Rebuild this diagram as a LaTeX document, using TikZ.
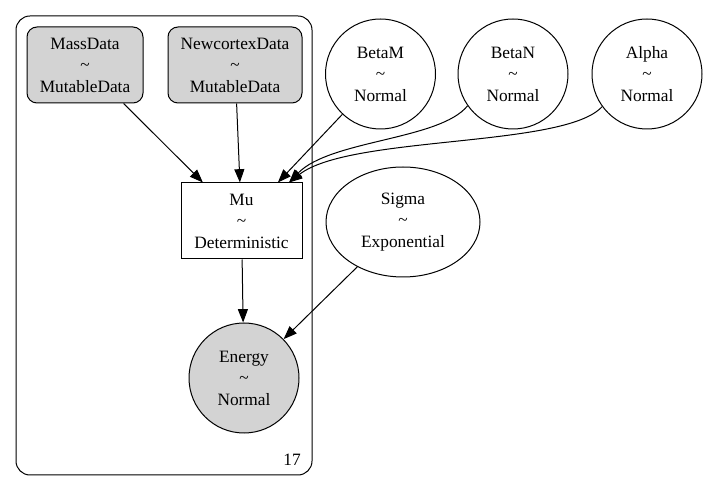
\documentclass[tikz,border=0pt]{standalone}
\usepackage{fontspec}
\newfontfamily\gvfont{LiberationSerif-Regular.ttf}
\usetikzlibrary{arrows.meta,shapes.geometric}
\definecolor{gvgray}{HTML}{D3D3D3}
\begin{document}
\begin{tikzpicture}[x=0.75pt,y=-0.75pt,
  every node/.style={font=\gvfont\fontsize{13}{16.1}\selectfont, align=center, inner sep=0pt, line width=0.75pt},
  datanode/.style={draw, fill=gvgray, rectangle, rounded corners=7.5pt, minimum height=76*0.75pt},
  rvnode/.style={draw, circle, minimum size=110*0.75pt},
  detnode/.style={draw, rectangle, minimum width=121*0.75pt, minimum height=76*0.75pt},
  arr/.style={-{Triangle[length=10pt,width=7.5pt]}, line width=0.75pt},
  plate/.style={draw, line width=0.75pt, rounded corners=10.5pt}]
\useasboundingbox (0,0) rectangle (707,491);
\draw[plate] (16,16) rectangle (312,475);
\node[anchor=center] (plabel) at (292,460) {17};
\node[datanode, minimum width=116*0.75pt] (mass) at (85,65) {MassData\\\textasciitilde\\MutableData};
\node[datanode, minimum width=134*0.75pt] (newc) at (235,65) {NewcortexData\\\textasciitilde\\MutableData};
\node[detnode] (mu) at (241.5,221) {Mu\\\textasciitilde\\Deterministic};
\node[rvnode, fill=gvgray] (energy) at (244,378) {Energy\\\textasciitilde\\Normal};
\node[rvnode] (betam) at (380.5,74) {BetaM\\\textasciitilde\\Normal};
\node[rvnode] (betan) at (513,74) {BetaN\\\textasciitilde\\Normal};
\node[rvnode] (alpha) at (647,74) {Alpha\\\textasciitilde\\Normal};
\node[draw, ellipse, minimum width=154*0.75pt, minimum height=110*0.75pt] (sigma) at (403,222) {Sigma\\\textasciitilde\\Exponential};
\draw[arr] (mass) -- (mu);
\draw[arr] (newc) -- (mu);
\draw[arr] (betam) -- (mu);
\draw[arr] (betan.215) .. controls (440,140) and (330,140) .. (mu.39);
\draw[arr] (alpha.216) .. controls (565,148) and (350,135) .. (mu.39);
\draw[arr] (mu) -- (energy);
\draw[arr] (sigma) -- (energy);
\end{tikzpicture}
\end{document}
